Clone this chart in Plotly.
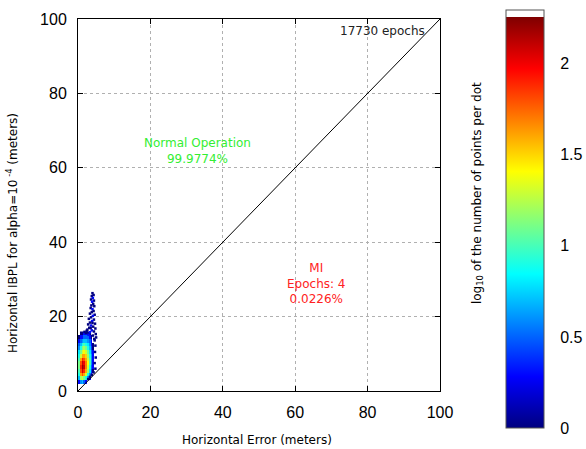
import plotly.graph_objects as go

N = None

# bin centres (meters) of the dense core
x_bins = [0.25, 0.75, 1.25, 1.75, 2.25, 2.75, 3.25, 3.75, 4.25, 4.75]
y_bins = [0.5, 1.5, 2.5, 3.5, 4.5, 5.5, 6.5, 7.5, 8.5, 9.5, 10.5, 11.5, 12.5,
          13.5, 14.5, 15.5]

# log10 of the number of points per dot (rows follow y_bins, columns follow x_bins)
log_counts = [
    [N,   N,   N,   N,   N,   N,   N,   N,   N,   N],    # 0.5
    [N,   N,   N,   N,   N,   N,   N,   N,   N,   N],    # 1.5
    [0.3, 0.6, 0.7, 0.5, 0.3, N,   N,   N,   N,   N],    # 2.5
    [0.7, 1.2, 1.3, 1.1, 0.9, 0.6, 0.3, N,   N,   N],    # 3.5
    [0.9, 1.6, 1.8, 1.6, 1.3, 0.9, 0.6, 0.3, N,   N],    # 4.5
    [1.0, 1.8, 2.1, 1.9, 1.6, 1.2, 0.8, 0.4, 0.0, N],    # 5.5
    [1.1, 1.9, 2.2, 2.1, 1.7, 1.3, 0.9, 0.5, 0.3, N],    # 6.5
    [1.1, 1.8, 2.1, 2.0, 1.7, 1.4, 1.0, 0.6, 0.3, N],    # 7.5
    [1.0, 1.6, 1.9, 1.8, 1.6, 1.3, 1.0, 0.6, 0.3, N],    # 8.5
    [0.9, 1.3, 1.6, 1.6, 1.5, 1.2, 0.9, 0.6, 0.3, N],    # 9.5
    [0.8, 1.1, 1.3, 1.4, 1.3, 1.1, 0.8, 0.5, 0.3, N],    # 10.5
    [0.6, 0.9, 1.1, 1.2, 1.1, 0.9, 0.7, 0.4, 0.0, N],    # 11.5
    [0.5, 0.7, 0.9, 1.0, 0.9, 0.8, 0.6, 0.3, 0.0, N],    # 12.5
    [0.3, 0.5, 0.6, 0.7, 0.7, 0.6, 0.5, 0.3, N,   N],    # 13.5
    [0.0, 0.3, 0.3, 0.5, 0.5, 0.5, 0.3, 0.0, N,   N],    # 14.5
    [N,   0.0, 0.0, 0.3, 0.3, 0.0, 0.0, N,   N,   N],    # 15.5
]

# sparse outlying dots (meters) and their log10 counts
tail_x = [4.0, 4.3, 3.8, 4.1, 3.6, 4.4, 3.9, 4.2, 3.7, 4.5, 3.5, 4.0, 4.3,
          3.8, 3.3, 4.6, 4.1, 3.6, 3.0, 4.4, 3.9, 3.3, 4.7, 2.8, 3.6, 4.2,
          3.1, 4.8, 2.6, 3.8, 4.4, 3.3, 2.2, 4.9, 2.9, 4.1, 1.8, 5.0, 4.6,
          4.8, 4.7, 4.9, 4.6, 4.8, 4.3, 3.8, 3.3, 2.8, 3.5, 4.0, 2.4, 4.5]
tail_y = [26.3, 25.8, 25.5, 25.0, 24.6, 24.3, 24.0, 23.4, 23.0, 22.8, 22.3,
          22.0, 21.5, 21.2, 20.8, 20.5, 20.2, 19.8, 19.4, 19.2, 18.8, 18.4,
          18.1, 17.9, 17.6, 17.3, 17.0, 16.8, 16.5, 16.3, 16.0, 15.8, 15.6,
          15.3, 15.1, 14.9, 15.9, 14.4, 13.6, 12.2, 10.5, 9.0, 7.5, 6.0,
          5.0, 4.3, 3.8, 3.2, 16.9, 18.3, 16.2, 14.0]
tail_val = [0.0, 0.0, 0.0, 0.3, 0.0, 0.0, 0.3, 0.0, 0.0, 0.0, 0.0, 0.3, 0.0,
            0.0, 0.0, 0.0, 0.3, 0.0, 0.0, 0.0, 0.3, 0.0, 0.0, 0.0, 0.3, 0.0,
            0.0, 0.0, 0.0, 0.3, 0.0, 0.3, 0.0, 0.0, 0.3, 0.0, 0.0, 0.0, 0.0,
            0.0, 0.0, 0.0, 0.0, 0.0, 0.0, 0.0, 0.0, 0.0, 0.0, 0.0, 0.0, 0.0]

diag_x = [0, 100]
diag_y = [0, 100]

axis_ticks = [0, 20, 40, 60, 80, 100]
cbar_ticks = [0, 0.5, 1, 1.5, 2]
cbar_ticktext = ["0", "0.5", "1", "1.5", "2"]

total_epochs_text = "17730 epochs"
normal_text = "Normal Operation<br>99.9774%"
mi_text = "MI<br>Epochs: 4<br>0.0226%"

jet_white = [
    [0.0, "#000080"],
    [0.1228, "#0000ff"],
    [0.3684, "#00ffff"],
    [0.6140, "#ffff00"],
    [0.8597, "#ff0000"],
    [0.9825, "#800000"],
    [0.9826, "#ffffff"],
    [1.0, "#ffffff"],
]
ZMAX = 2.29

fig = go.Figure()

fig.add_trace(go.Heatmap(
    x=x_bins, y=y_bins, z=log_counts,
    colorscale=jet_white, zmin=0, zmax=ZMAX,
    hoverongaps=False,
    colorbar=dict(
        x=1.1815, xanchor="left", xpad=0,
        y=0.4618, yanchor="middle", ypad=0,
        len=418, lenmode="pixels",
        thickness=38, thicknessmode="pixels",
        outlinewidth=1, outlinecolor="#555555",
        tickvals=cbar_ticks, ticktext=cbar_ticktext,
        ticks="outside", ticklen=13, tickcolor="rgba(0,0,0,0)",
        tickfont=dict(family="Liberation Sans", size=16, color="black"),
    ),
))

fig.add_trace(go.Scatter(
    x=tail_x, y=tail_y, mode="markers",
    marker=dict(symbol="square", size=2.5, color=tail_val,
                colorscale=jet_white, cmin=0, cmax=ZMAX,
                line=dict(width=0), showscale=False),
    showlegend=False, hoverinfo="skip",
))

fig.add_trace(go.Scatter(
    x=diag_x, y=diag_y, mode="lines",
    line=dict(color="black", width=1),
    showlegend=False, hoverinfo="skip",
))

axis_common = dict(
    range=[0, 100], tickvals=axis_ticks,
    showline=True, linecolor="black", linewidth=1, mirror="ticks",
    ticks="inside", ticklen=5, tickcolor="black",
    showgrid=True, gridcolor="#b0b0b0", griddash="dot", gridwidth=1,
    zeroline=False,
    tickfont=dict(family="Liberation Sans", size=16, color="black"),
    ticklabelstandoff=7,
)

fig.update_xaxes(**axis_common)
fig.update_yaxes(**axis_common)

fig.update_layout(
    width=586, height=449,
    margin=dict(l=78, r=146, t=19, b=58, autoexpand=False),
    plot_bgcolor="white", paper_bgcolor="white",
    showlegend=False,
    font=dict(family="DejaVu Sans", size=12, color="black"),
    annotations=[
        dict(text=total_epochs_text, x=96.5, y=96.8, xref="x", yref="y",
             xanchor="right", yanchor="middle", showarrow=False,
             font=dict(family="DejaVu Sans", size=12, color="#222222")),
        dict(text=normal_text, x=32.9, y=64.6, xref="x", yref="y",
             xanchor="center", yanchor="middle", showarrow=False,
             font=dict(family="DejaVu Sans", size=12, color="#33ee33")),
        dict(text=mi_text, x=66.0, y=28.8, xref="x", yref="y",
             xanchor="center", yanchor="middle", showarrow=False,
             font=dict(family="DejaVu Sans", size=12, color="#ff2222")),
        dict(text="Horizontal Error (meters)", x=0.494, y=-0.133,
             xref="paper", yref="paper", xanchor="center", yanchor="middle",
             showarrow=False,
             font=dict(family="DejaVu Sans", size=12, color="black")),
        dict(text="Horizontal IBPL for alpha=10<sup> -4</sup> (meters)",
             x=-0.182, y=0.425, xref="paper", yref="paper",
             xanchor="center", yanchor="middle", textangle=-90,
             showarrow=False,
             font=dict(family="DejaVu Sans", size=12, color="black")),
        dict(text="log<sub>10</sub> of the number of points per dot",
             x=1.105, y=0.532, xref="paper", yref="paper",
             xanchor="center", yanchor="middle", textangle=-90,
             showarrow=False,
             font=dict(family="DejaVu Sans", size=12, color="black")),
    ],
)

fig.write_html("out.html")
